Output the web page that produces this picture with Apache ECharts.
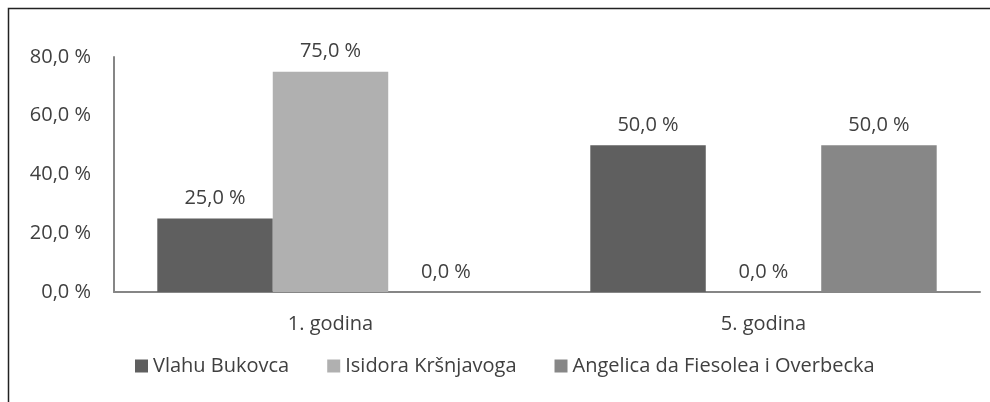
<!DOCTYPE html>
<html>
<head>
<meta charset="utf-8">
<script src="https://cdn.jsdelivr.net/npm/echarts@6/dist/echarts.min.js"></script>
<style>
  html, body { margin: 0; padding: 0; background: #fff; }
  #chart { width: 990px; height: 402px; }
</style>
</head>
<body>
<div id="chart"></div>
<script>
// podaci
const categories = ['1. godina', '5. godina'];
const seriesNames = ['Vlahu Bukovca', 'Isidora Kršnjavoga', 'Angelica da Fiesolea i Overbecka'];
const vlahuBukovca = [25.0, 50.0];
const isidoraKrsnjavoga = [75.0, 0.0];
const angelicaFiesolea = [0.0, 50.0];
const yTicks = [0, 20, 40, 60, 80];

const colors = ['#5f5f5f', '#b0b0b0', '#878787'];
const font = '"Open Sans", sans-serif';
const textColor = '#404040';
const fs = 20;

// 25 -> "25,0 %"
const fmt = v => v.toFixed(1).replace('.', ',') + ' %';

const chart = echarts.init(document.getElementById('chart'));

const makeSeries = (name, data, i) => ({
  name: name,
  type: 'bar',
  data: data,
  barGap: 0,
  barCategoryGap: '20%',
  itemStyle: { color: colors[i] },
  label: {
    show: true,
    position: 'top',
    distance: 10,
    formatter: p => fmt(p.value),
    color: textColor,
    fontFamily: font,
    fontSize: fs
  }
});

const option = {
  animation: false,
  textStyle: { fontFamily: font },
  graphic: [{
    type: 'rect',
    shape: { x: 8.5, y: 8.5, width: 1100, height: 600 },
    style: { fill: 'none', stroke: '#222', lineWidth: 1.5 }
  }],
  grid: { left: 114, right: 10, top: 57, bottom: 110 },
  legend: {
    data: seriesNames,
    left: 130,
    top: 351,
    icon: 'rect',
    itemWidth: 13,
    itemHeight: 13,
    itemGap: 38,
    textStyle: { color: textColor, fontFamily: font, fontSize: fs }
  },
  xAxis: {
    type: 'category',
    data: categories,
    axisLine: { lineStyle: { color: '#868686', width: 2 } },
    axisTick: { show: false },
    axisLabel: { color: textColor, fontFamily: font, fontSize: fs, margin: 22 }
  },
  yAxis: {
    type: 'value',
    min: yTicks[0],
    max: yTicks[yTicks.length - 1],
    interval: 20,
    splitLine: { show: false },
    axisLine: { show: true, lineStyle: { color: '#868686', width: 2 } },
    axisTick: { show: false },
    axisLabel: {
      color: textColor, fontFamily: font, fontSize: fs, margin: 23,
      formatter: v => fmt(v)
    }
  },
  series: [
    makeSeries(seriesNames[0], vlahuBukovca, 0),
    makeSeries(seriesNames[1], isidoraKrsnjavoga, 1),
    makeSeries(seriesNames[2], angelicaFiesolea, 2)
  ]
};

chart.setOption(option);
</script>
</body>
</html>
